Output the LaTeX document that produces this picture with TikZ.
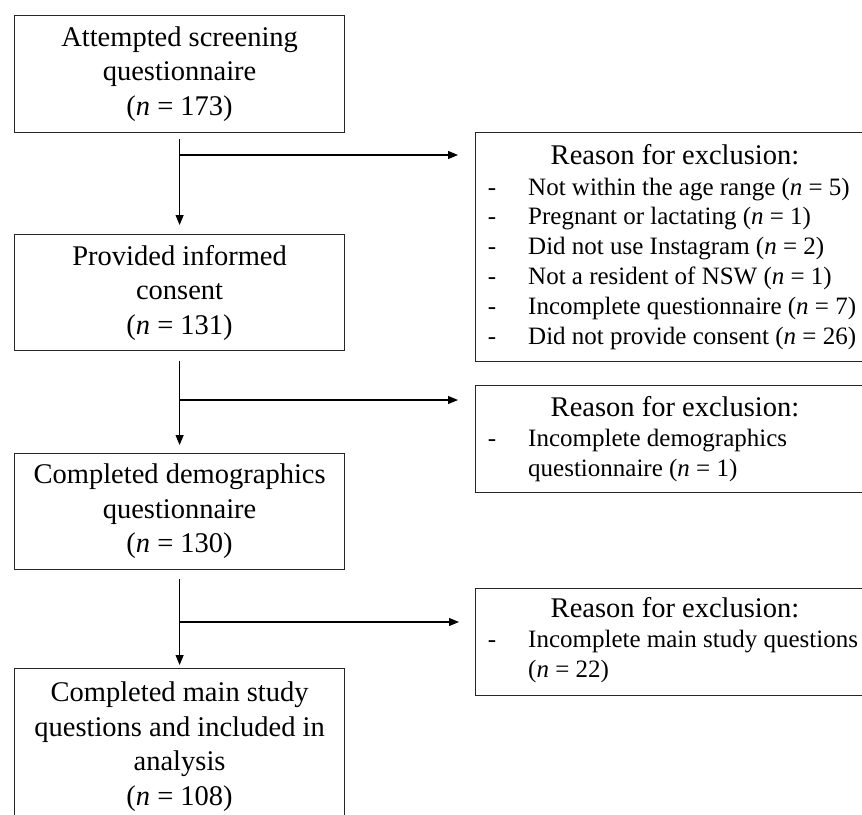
\documentclass[tikz,border=0pt]{standalone}
\usepackage{fontspec}
\setmainfont{Liberation Serif}
\usetikzlibrary{arrows.meta}
\begin{document}
\begin{tikzpicture}[x=1pt,y=-1pt,
  mainbox/.style={draw=black!85, line width=1.2pt, inner sep=0pt, minimum width=330pt,
    align=center, font=\fontsize{28.5}{34.5}\selectfont, anchor=north west},
  exbox/.style={draw=black!85, line width=1.2pt, inner sep=0pt, minimum width=400pt, anchor=north west},
  extitle/.style={anchor=base, inner sep=0pt, font=\fontsize{28.5}{34.5}\selectfont},
  exitem/.style={anchor=base west, inner sep=0pt, font=\fontsize{25}{30}\selectfont},
  exdash/.style={anchor=base, inner sep=0pt, font=\fontsize{25}{30}\selectfont},
  flow/.style={line width=1.1pt, -{Triangle[length=10pt,width=8pt]}}
]
\useasboundingbox (0,0) rectangle (862,814);

% main boxes
\node[mainbox, minimum height=117pt] (A) at (14,15) {Attempted screening\\questionnaire\\(\textit{n} = 173)};
\node[mainbox, minimum height=116pt] (B) at (14,234) {Provided informed\\consent\\(\textit{n} = 131)};
\node[mainbox, minimum height=116pt] (C) at (14,453) {Completed demographics\\questionnaire\\(\textit{n} = 130)};
\node[mainbox, minimum height=156pt] (D) at (14,668) {Completed main study\\questions and included in\\analysis\\(\textit{n} = 108)};

% exclusion boxes
\node[exbox, minimum height=229pt] (E1) at (475,132) {};
\node[exbox, minimum height=107pt] (E2) at (475,385) {};
\node[exbox, minimum height=107pt] (E3) at (475,588) {};

% exclusion box 1 text
\node[extitle] (t1) at (675,164) {Reason for exclusion:};
\node[exdash] (d11) at (492,195) {-};
\node[exitem] (i11) at (528,195) {Not within the age range (\textit{n} = 5)};
\node[exdash] (d12) at (492,224.8) {-};
\node[exitem] (i12) at (528,224.8) {Pregnant or lactating (\textit{n} = 1)};
\node[exdash] (d13) at (492,254.6) {-};
\node[exitem] (i13) at (528,254.6) {Did not use Instagram (\textit{n} = 2)};
\node[exdash] (d14) at (492,284.4) {-};
\node[exitem] (i14) at (528,284.4) {Not a resident of NSW (\textit{n} = 1)};
\node[exdash] (d15) at (492,314.2) {-};
\node[exitem] (i15) at (528,314.2) {Incomplete questionnaire (\textit{n} = 7)};
\node[exdash] (d16) at (492,344) {-};
\node[exitem] (i16) at (528,344) {Did not provide consent (\textit{n} = 26)};

% exclusion box 2 text
\node[extitle] (t2) at (675,416) {Reason for exclusion:};
\node[exdash] (d21) at (492,446) {-};
\node[exitem] (i21) at (528,446) {Incomplete demographics};
\node[exitem] (i22) at (528,476) {questionnaire (\textit{n} = 1)};

% exclusion box 3 text
\node[extitle] (t3) at (675,617) {Reason for exclusion:};
\node[exdash] (d31) at (492,647) {-};
\node[exitem] (i31) at (528,647) {Incomplete main study questions};
\node[exitem] (i32) at (528,677) {(\textit{n} = 22)};

% connectors
\draw[flow] ([yshift=-6pt]A.south) -- ([yshift=9pt]B.north);
\draw[flow] ([yshift=-10pt]B.south) -- ([yshift=8pt]C.north);
\draw[flow] ([yshift=-9pt]C.south) -- ([yshift=3pt]D.north);

\coordinate (j1) at (179,155);
\coordinate (j2) at (179,400);
\coordinate (j3) at (179,622);
\coordinate (e1) at ([xshift=-17pt]E1.west);
\coordinate (e2) at ([xshift=-17pt]E2.west);
\coordinate (e3) at ([xshift=-16pt]E3.west);
\draw[flow] (j1) -- (e1 |- j1);
\draw[flow] (j2) -- (e2 |- j2);
\draw[flow] (j3) -- (e3 |- j3);
\end{tikzpicture}
\end{document}
